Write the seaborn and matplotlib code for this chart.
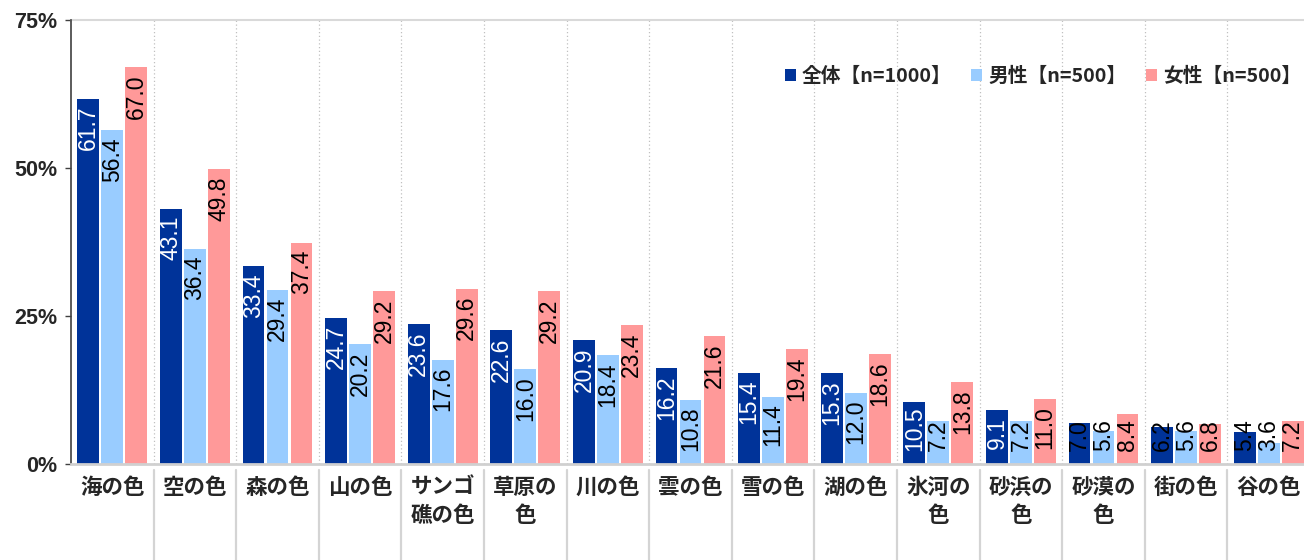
import matplotlib
matplotlib.use("Agg")
import matplotlib.pyplot as plt
import matplotlib.transforms as mtransforms
import seaborn as sns
import pandas as pd

categories = ["海の色", "空の色", "森の色", "山の色", "サンゴ\n礁の色", "草原の\n色", "川の色", "雲の色",
              "雪の色", "湖の色", "氷河の\n色", "砂浜の\n色", "砂漠の\n色", "街の色", "谷の色"]
series_names = ["全体【n=1000】", "男性【n=500】", "女性【n=500】"]
total = [61.7, 43.1, 33.4, 24.7, 23.6, 22.6, 20.9, 16.2, 15.4, 15.3, 10.5, 9.1, 7.0, 6.2, 5.4]
male = [56.4, 36.4, 29.4, 20.2, 17.6, 16.0, 18.4, 10.8, 11.4, 12.0, 7.2, 7.2, 5.6, 5.6, 3.6]
female = [67.0, 49.8, 37.4, 29.2, 29.6, 29.2, 23.4, 21.6, 19.4, 18.6, 13.8, 11.0, 8.4, 6.8, 7.2]
colors = ["#003399", "#99CCFF", "#FF9999"]
yticks = [0, 25, 50, 75]

sns.set_theme(style="white")
plt.rcParams['font.family'] = ['Noto Sans CJK JP', 'DejaVu Sans']

rows = []
for name, vals in zip(series_names, [total, male, female]):
    for c, v in zip(categories, vals):
        rows.append({"cat": c, "val": v, "series": name})
df = pd.DataFrame(rows)

fig = plt.figure(figsize=(13.04, 5.6), dpi=100)
ax = fig.add_axes([71 / 1304, 96 / 560, 1239 / 1304, 444 / 560])

sns.barplot(data=df, x="cat", y="val", hue="series", order=categories, hue_order=series_names,
            palette=colors, width=0.87, gap=0.09, linewidth=0, saturation=1, errorbar=None, ax=ax)

ax.set_xlim(-0.5, len(categories) - 0.5)
ax.set_ylim(0, 75)
ax.set_yticks(yticks)
ax.set_yticklabels([f"{t}%" for t in yticks], fontsize=15.5, fontweight="bold",
                   family=['Liberation Sans', 'DejaVu Sans'])
ax.set_xticks(range(len(categories)))
ax.set_xticklabels(categories, fontsize=15.5, fontweight="bold", linespacing=1.45, va="top")
ax.tick_params(axis="x", length=0, pad=9)
ax.tick_params(axis="y", length=4, width=1, color="#404040", direction="out", pad=6, left=True)
ax.set_xlabel("")
ax.set_ylabel("")

for side in ["top", "right"]:
    ax.spines[side].set_visible(False)
ax.spines["left"].set_color("#404040")
ax.spines["left"].set_linewidth(1.2)
ax.spines["bottom"].set_color("#d0d0d0")
ax.spines["bottom"].set_linewidth(2)
ax.axhline(75, color="#d9d9d9", lw=1.5, clip_on=False)

# category separators
trans = mtransforms.blended_transform_factory(ax.transData, ax.transAxes)
for i in range(len(categories) - 1):
    ax.plot([i + 0.5, i + 0.5], [0, 1], transform=trans, color="#c0c0c0", lw=0.9,
            ls=(0, (1, 2)), zorder=0)
    ax.plot([i + 0.5, i + 0.5], [-0.014, -0.25], transform=trans, color="#d4d4d4", lw=1.6,
            clip_on=False)

# legend
handles, labels = ax.get_legend_handles_labels()
if ax.get_legend() is not None:
    ax.get_legend().remove()
ax.legend(handles, labels, loc="center right", bbox_to_anchor=(1230 / 1239, 0.873), ncol=3,
          frameon=False, borderpad=0, borderaxespad=0,
          handlelength=0.55, handleheight=0.55, handletextpad=0.3, columnspacing=1.0,
          prop={"family": ['Noto Sans CJK JP', 'DejaVu Sans'], "weight": "bold", "size": 14.2})

# value labels
renderer = fig.canvas.get_renderer()
y0 = ax.transData.transform((0, 0))[1]
for ci, (container, vals) in enumerate(zip(ax.containers, [total, male, female])):
    for bar, v in zip(container, vals):
        xc = bar.get_x() + bar.get_width() / 2
        t = ax.annotate(f"{v:.1f}", xy=(xc, 0), xycoords="data", xytext=(0, 0),
                        textcoords="offset points", rotation=90, ha="center", va="top",
                        fontsize=16.5, color="black", family=['Liberation Sans', 'DejaVu Sans'],
                        annotation_clip=False)
        bb = t.get_window_extent(renderer=renderer)
        tlen = bb.height
        yv = ax.transData.transform((0, v))[1]
        inside = yv - y0 - 7
        top_px = max(inside, tlen + 13)
        if ci == 0 and top_px <= yv - y0:
            t.set_color("white")
        t.xyann = (0, top_px * 72 / fig.dpi)

fig.savefig("out.png", dpi=100)
